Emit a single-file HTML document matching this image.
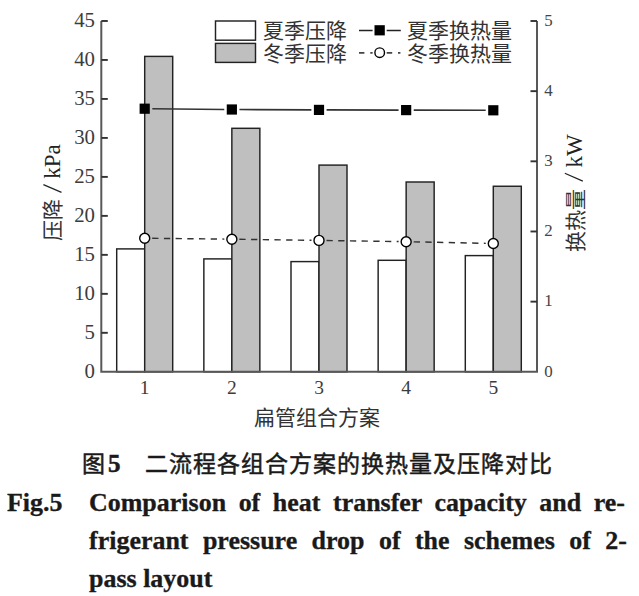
<!DOCTYPE html>
<html lang="zh-CN"><head><meta charset="utf-8">
<style>
html,body{margin:0;padding:0;background:#fff;}
body{width:639px;height:596px;position:relative;overflow:hidden;}
svg{position:absolute;left:0;top:0;}
.tl{font-family:"Liberation Serif",serif;font-size:20.8px;fill:#3c3c3c;}
.tr{font-family:"Liberation Serif",serif;font-size:16.9px;fill:#444;}
.tx{font-family:"Liberation Serif",serif;font-size:19.5px;fill:#3c3c3c;}
.cn{font-family:"Liberation Serif",serif;font-size:21px;fill:#333;font-weight:300;}
.tla{font-family:"Liberation Serif",serif;font-size:23px;fill:#222;}
.ti{font-family:"Liberation Serif",serif;font-size:21px;fill:#333;font-weight:300;}
.cap{position:absolute;font-family:"Liberation Serif",serif;font-weight:bold;color:#1a1a1a;white-space:nowrap;}
#c1{left:82px;top:449px;font-size:23px;line-height:30px;font-family:"Liberation Sans",sans-serif;font-weight:400;letter-spacing:1.0px;-webkit-text-stroke:0.5px #1a1a1a;}
.b5{font-family:"Liberation Serif",serif;font-weight:bold;font-size:25px;margin-left:2px;letter-spacing:0;}
.en{position:absolute;font-family:"Liberation Serif",serif;font-weight:bold;color:#1a1a1a;font-size:24.5px;line-height:30px;white-space:nowrap;-webkit-text-stroke:0.3px #1a1a1a;transform:scaleX(1.06);transform-origin:0 0;}
.j{text-align:justify;text-align-last:justify;}
</style></head><body>
<svg width="639" height="596" viewBox="0 0 639 596">
<rect x="116.70" y="248.90" width="28.00" height="122.90" fill="#fff" stroke="#222" stroke-width="1.45"/>
<rect x="144.70" y="56.40" width="28.00" height="315.40" fill="#bfbfbf" stroke="#222" stroke-width="1.45"/>
<rect x="203.85" y="258.90" width="28.00" height="112.90" fill="#fff" stroke="#222" stroke-width="1.45"/>
<rect x="231.85" y="128.30" width="28.00" height="243.50" fill="#bfbfbf" stroke="#222" stroke-width="1.45"/>
<rect x="291.00" y="261.60" width="28.00" height="110.20" fill="#fff" stroke="#222" stroke-width="1.45"/>
<rect x="319.00" y="165.10" width="28.00" height="206.70" fill="#bfbfbf" stroke="#222" stroke-width="1.45"/>
<rect x="378.15" y="260.30" width="28.00" height="111.50" fill="#fff" stroke="#222" stroke-width="1.45"/>
<rect x="406.15" y="182.00" width="28.00" height="189.80" fill="#bfbfbf" stroke="#222" stroke-width="1.45"/>
<rect x="465.30" y="255.60" width="28.00" height="116.20" fill="#fff" stroke="#222" stroke-width="1.45"/>
<rect x="493.30" y="186.25" width="28.00" height="185.55" fill="#bfbfbf" stroke="#222" stroke-width="1.45"/>
<path d="M101.30 21.00 V371.80 H537.00 V21.00" fill="none" stroke="#585858" stroke-width="2"/>
<text x="95" y="377.90" text-anchor="end" class="tl">0</text>
<path d="M101.30 332.82 H107.80" stroke="#333" stroke-width="1.9"/>
<text x="95" y="338.92" text-anchor="end" class="tl">5</text>
<path d="M101.30 293.84 H107.80" stroke="#333" stroke-width="1.9"/>
<text x="95" y="299.94" text-anchor="end" class="tl">10</text>
<path d="M101.30 254.86 H107.80" stroke="#333" stroke-width="1.9"/>
<text x="95" y="260.96" text-anchor="end" class="tl">15</text>
<path d="M101.30 215.88 H107.80" stroke="#333" stroke-width="1.9"/>
<text x="95" y="221.98" text-anchor="end" class="tl">20</text>
<path d="M101.30 176.90 H107.80" stroke="#333" stroke-width="1.9"/>
<text x="95" y="183.00" text-anchor="end" class="tl">25</text>
<path d="M101.30 137.92 H107.80" stroke="#333" stroke-width="1.9"/>
<text x="95" y="144.02" text-anchor="end" class="tl">30</text>
<path d="M101.30 98.94 H107.80" stroke="#333" stroke-width="1.9"/>
<text x="95" y="105.04" text-anchor="end" class="tl">35</text>
<path d="M101.30 59.96 H107.80" stroke="#333" stroke-width="1.9"/>
<text x="95" y="66.06" text-anchor="end" class="tl">40</text>
<path d="M101.30 20.98 H107.80" stroke="#333" stroke-width="1.9"/>
<text x="95" y="27.08" text-anchor="end" class="tl">45</text>
<text x="544.3" y="376.65" class="tr">0</text>
<path d="M537.00 301.64 H530.50" stroke="#333" stroke-width="1.9"/>
<text x="544.3" y="306.49" class="tr">1</text>
<path d="M537.00 231.48 H530.50" stroke="#333" stroke-width="1.9"/>
<text x="544.3" y="236.33" class="tr">2</text>
<path d="M537.00 161.32 H530.50" stroke="#333" stroke-width="1.9"/>
<text x="544.3" y="166.17" class="tr">3</text>
<path d="M537.00 91.16 H530.50" stroke="#333" stroke-width="1.9"/>
<text x="544.3" y="96.01" class="tr">4</text>
<path d="M537.00 21.00 H530.50" stroke="#333" stroke-width="1.9"/>
<text x="544.3" y="25.85" class="tr">5</text>
<text x="144.70" y="393.7" text-anchor="middle" class="tx">1</text>
<text x="231.85" y="393.7" text-anchor="middle" class="tx">2</text>
<text x="319.00" y="393.7" text-anchor="middle" class="tx">3</text>
<text x="406.15" y="393.7" text-anchor="middle" class="tx">4</text>
<text x="493.30" y="393.7" text-anchor="middle" class="tx">5</text>
<path d="M152.30 108.77 L224.25 109.43" stroke="#333" stroke-width="1.6"/>
<path d="M239.45 109.53 L311.40 109.87" stroke="#333" stroke-width="1.6"/>
<path d="M326.60 109.92 L398.55 110.08" stroke="#333" stroke-width="1.6"/>
<path d="M413.75 110.12 L485.70 110.28" stroke="#333" stroke-width="1.6"/>
<rect x="139.60" y="103.60" width="10.20" height="10.20" fill="#000"/>
<rect x="226.75" y="104.40" width="10.20" height="10.20" fill="#000"/>
<rect x="313.90" y="104.80" width="10.20" height="10.20" fill="#000"/>
<rect x="401.05" y="105.00" width="10.20" height="10.20" fill="#000"/>
<rect x="488.20" y="105.20" width="10.20" height="10.20" fill="#000"/>
<path d="M152.20 238.29 L224.35 239.11" stroke="#333" stroke-width="1.45" stroke-dasharray="6.3 5.4"/>
<path d="M239.35 239.30 L311.50 240.30" stroke="#333" stroke-width="1.45" stroke-dasharray="6.3 5.4"/>
<path d="M326.50 240.51 L398.65 241.59" stroke="#333" stroke-width="1.45" stroke-dasharray="6.3 5.4"/>
<path d="M413.65 241.85 L485.80 243.35" stroke="#333" stroke-width="1.45" stroke-dasharray="6.3 5.4"/>
<circle cx="144.70" cy="238.20" r="5.00" fill="#fff" stroke="#000" stroke-width="1.4"/>
<circle cx="231.85" cy="239.20" r="5.00" fill="#fff" stroke="#000" stroke-width="1.4"/>
<circle cx="319.00" cy="240.40" r="5.00" fill="#fff" stroke="#000" stroke-width="1.4"/>
<circle cx="406.15" cy="241.70" r="5.00" fill="#fff" stroke="#000" stroke-width="1.4"/>
<circle cx="493.30" cy="243.50" r="5.00" fill="#fff" stroke="#000" stroke-width="1.4"/>
<rect x="215.5" y="21" width="40" height="19.2" fill="#fff" stroke="#222" stroke-width="1.45"/>
<rect x="215.5" y="43.4" width="40" height="19" fill="#bfbfbf" stroke="#222" stroke-width="1.45"/>
<text x="263" y="37.6" class="cn">夏季压降</text>
<text x="263" y="60.5" class="cn">冬季压降</text>
<path d="M359 30.4 H372.6 M386.7 30.4 H400.8" stroke="#222" stroke-width="1.5"/>
<rect x="374.5" y="25.2" width="10.3" height="10.2" fill="#000"/>
<path d="M359 52.9 H364.4 M370.3 52.9 H372.6 M386.7 52.9 H392.2 M398 52.9 H400.4" stroke="#444" stroke-width="1.8"/>
<circle cx="379.7" cy="52.7" r="4.8" fill="#fff" stroke="#000" stroke-width="1.4"/>
<text x="407" y="37.6" class="cn">夏季换热量</text>
<text x="407" y="60.5" class="cn">冬季换热量</text>
<text transform="translate(60.1,220.4) rotate(-90)" text-anchor="middle" class="ti">压降</text>
<path d="M43.4 184.6 L61.5 192.4" stroke="#222" stroke-width="1.2"/>
<text transform="translate(60.3,161.5) rotate(-90)" text-anchor="middle" class="tla">kPa</text>
<text transform="translate(582.6,220.0) rotate(-90)" text-anchor="middle" class="ti">换热量</text>
<path d="M564.8 173.2 L582.8 181.1" stroke="#222" stroke-width="1.2"/>
<text transform="translate(581.7,150.9) rotate(-90)" text-anchor="middle" class="tla">kW</text>
<text x="316.8" y="425" text-anchor="middle" class="cn">扁管组合方案</text>
</svg>
<div class="cap" id="c1">图<span class="b5">5</span><span style="display:inline-block;width:24px"></span>二流程各组合方案的换热量及压降对比</div>
<div class="en" style="left:7px;top:488px;">Fig.5</div>
<div class="en j" style="left:89px;top:488px;width:505.7px;">Comparison of heat transfer capacity and re-</div>
<div class="en j" style="left:89px;top:526px;width:507.5px;">frigerant pressure drop of the schemes of 2-</div>
<div class="en" style="left:89px;top:564px;">pass layout</div>
</body></html>
